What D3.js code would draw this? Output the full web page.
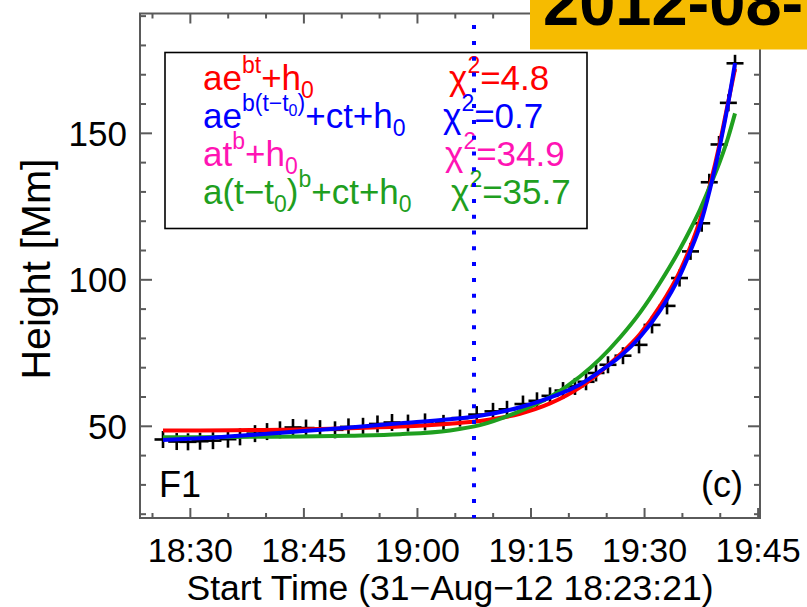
<!DOCTYPE html>
<html>
<head>
<meta charset="utf-8">
<script src="https://cdn.jsdelivr.net/npm/d3@7"></script>
<style>
  html, body { margin: 0; padding: 0; background: #fff; }
  svg { display: block; font-family: "Liberation Sans", Arial, Helvetica, sans-serif; }
</style>
</head>
<body>
<svg id="chart" width="807" height="607"></svg>
<script>
// ---------------- data ----------------
// time in minutes after start time 31-Aug-12 18:23:21
const obsTime = [3.04, 4.85, 6.34, 7.93, 9.64, 11.62, 13.21, 15.19, 16.78, 18.49,
  20.21, 21.93, 23.78, 25.76, 27.54, 29.46, 31.37, 33.29, 35.40, 37.65,
  40.09, 42.27, 44.48, 46.63, 48.48, 50.59, 52.44, 54.16, 55.88, 57.46,
  58.92, 60.24, 61.82, 63.80, 65.92, 67.64, 69.62, 71.27, 72.72, 74.20,
  75.20, 76.49, 77.72, 78.60];
const obsHeight = [45.5, 44.8, 44.7, 44.9, 45.1, 45.6, 46.4, 47.5, 48.2, 48.8,
  49.6, 49.4, 49.2, 48.8, 49.8, 50.0, 50.8, 51.3, 51.1, 51.5,
  51.0, 52.8, 54.0, 55.1, 55.8, 57.6, 58.7, 60.4, 62.2, 63.6,
  65.2, 68.2, 71.0, 74.1, 77.8, 84.6, 91.1, 100.6, 109.7, 119.3,
  133.3, 146.2, 160.4, 173.9];

// fitted curves, sampled from the figure
const fitTime  = [3.04, 7.93, 14.53, 21.14, 27.74, 34.35, 40.95, 44.91, 50.20, 54.16,
  58.12, 60.77, 63.41, 66.05, 68.69, 71.33, 72.66, 73.98, 75.30, 76.62, 77.68, 78.60];
const fitExp   = [48.6, 48.6, 48.7, 48.9, 49.3, 49.9, 50.9, 51.8, 54.3, 57.8,
  63.3, 68.5, 74.5, 81.5, 91.0, 103.0, 111.0, 120.5, 132.5, 147.0, 160.5, 172.0];
const fitExpLin = [45.3, 45.9, 47.0, 48.3, 49.6, 51.0, 52.4, 53.6, 56.5, 59.8,
  64.3, 68.8, 73.8, 80.5, 89.5, 101.5, 109.5, 118.5, 131.0, 146.0, 160.0, 174.0];
const fitPowLin = [46.3, 46.3, 46.4, 46.5, 46.8, 47.3, 48.6, 50.4, 55.2, 60.0,
  67.0, 73.0, 80.3, 88.8, 99.0, 110.5, 117.0, 124.0, 132.0, 140.5, 148.5, 156.8];

const eventTime = 44.12;   // blue dotted marker line

const xTickMinutes = [6.65, 21.65, 36.65, 51.65, 66.65, 81.65];
const xTickLabels  = ["18:30", "18:45", "19:00", "19:15", "19:30", "19:45"];
const yTickValues  = [50, 100, 150];
const yTickLabels  = ["50", "100", "150"];

const xTitle = "Start Time (31\u2212Aug\u221212 18:23:21)";
const yTitle = "Height [Mm]";
const dateBanner = "2012-08-";
const panelLabel = "F1";
const panelTag = "(c)";

// legend: formula pieces (level: 0 base, 1 sup, -1 sub, 2 sub inside sup)
const legendFormulas = [
  [["ae",0],["bt",1],["+h",0],["0",-1]],
  [["ae",0],["b(t\u2212t",1],["0",2],[")",1],["+ct+h",0],["0",-1]],
  [["at",0],["b",1],["+h",0],["0",-1]],
  [["a(t\u2212t",0],["0",-1],[")",0],["b",1],["+ct+h",0],["0",-1]]
];
const legendChi = ["=4.8", "=0.7", "=34.9", "=35.7"];
const legendColors = ["#ff0000", "#0000ff", "#ff14b4", "#1f9f1f"];

// ---------------- layout ----------------
const L = 140, R = 760, T = 13.5, B = 518;
const axisColor = "#5a5a5a";

const svg = d3.select("#chart");

const x = d3.scaleLinear().domain([0, 81.9]).range([L, R]);
const y = d3.scaleLinear().domain([18.7, 190.9]).range([B, T]);

// markers
const pts = obsTime.map((t, i) => ({ t, h: obsHeight[i] }));
const mk = svg.append("g").attr("stroke", "#000").attr("stroke-width", 2.6);
pts.forEach(p => {
  const cx = x(p.t), cy = y(p.h);
  mk.append("line").attr("x1", cx - 8.5).attr("x2", cx + 8.5).attr("y1", cy).attr("y2", cy);
  mk.append("line").attr("x1", cx).attr("x2", cx).attr("y1", cy - 8.5).attr("y2", cy + 8.5);
});

// fit lines
const line = d3.line().x(d => x(d[0])).y(d => y(d[1])).curve(d3.curveMonotoneX);
[[fitExp, legendColors[0]], [fitPowLin, legendColors[3]], [fitExpLin, legendColors[1]]].forEach(([vals, col]) => {
  svg.append("path")
    .attr("d", line(fitTime.map((t, i) => [t, vals[i]])))
    .attr("fill", "none").attr("stroke", col).attr("stroke-width", 4)
    .attr("stroke-linejoin", "round");
});

// axes frame
const ax = svg.append("g").attr("stroke", axisColor).attr("stroke-width", 2).attr("fill", "none");
ax.append("rect").attr("x", L).attr("y", T).attr("width", R - L).attr("height", B - T);

const xMinor = d3.range(1.65, 82, 5).filter(v => !xTickMinutes.some(m => Math.abs(m - v) < 0.01));
const yMinor = d3.range(20, 191, 10).filter(v => !yTickValues.includes(v));

xTickMinutes.forEach(v => {
  if (x(v) > R) return;
  ax.append("line").attr("x1", x(v)).attr("x2", x(v)).attr("y1", B).attr("y2", B - 10);
  ax.append("line").attr("x1", x(v)).attr("x2", x(v)).attr("y1", T).attr("y2", T + 10);
});
xMinor.forEach(v => {
  ax.append("line").attr("x1", x(v)).attr("x2", x(v)).attr("y1", B).attr("y2", B - 5);
  ax.append("line").attr("x1", x(v)).attr("x2", x(v)).attr("y1", T).attr("y2", T + 5);
});
yTickValues.forEach(v => {
  ax.append("line").attr("x1", L).attr("x2", L + 12).attr("y1", y(v)).attr("y2", y(v));
  ax.append("line").attr("x1", R).attr("x2", R - 12).attr("y1", y(v)).attr("y2", y(v));
});
yMinor.forEach(v => {
  ax.append("line").attr("x1", L).attr("x2", L + 6).attr("y1", y(v)).attr("y2", y(v));
  ax.append("line").attr("x1", R).attr("x2", R - 6).attr("y1", y(v)).attr("y2", y(v));
});

// tick labels
svg.append("g").selectAll("text").data(xTickMinutes).join("text")
  .attr("x", d => x(d)).attr("y", 562).attr("text-anchor", "middle")
  .attr("font-size", 34).attr("fill", "#000")
  .text((d, i) => xTickLabels[i]);
svg.append("g").selectAll("text").data(yTickValues).join("text")
  .attr("x", 127).attr("y", d => y(d) + 12.5).attr("text-anchor", "end")
  .attr("font-size", 35).attr("fill", "#000")
  .text((d, i) => yTickLabels[i]);

// titles
svg.append("text").attr("x", 450).attr("y", 600).attr("text-anchor", "middle")
  .attr("font-size", 35.5).attr("fill", "#000").text(xTitle);
svg.append("text").attr("transform", "translate(50,269) rotate(-90)").attr("text-anchor", "middle")
  .attr("font-size", 41).attr("fill", "#000").text(yTitle);

// panel labels
svg.append("text").attr("x", 159).attr("y", 497).attr("font-size", 36).attr("fill", "#000").text(panelLabel);
svg.append("text").attr("x", 743).attr("y", 497).attr("text-anchor", "end").attr("font-size", 36).attr("fill", "#000").text(panelTag);

// legend
const lg = svg.append("g");
lg.append("rect").attr("x", 165).attr("y", 52.5).attr("width", 422).attr("height", 176)
  .attr("fill", "none").attr("stroke", "#000").attr("stroke-width", 1.6);
const rowY = [90, 128, 166, 203.5];
const chiX = [449, 443, 445, 451];
const levelShift = { "0": 0, "1": -17, "-1": 8, "2": -12 };
const levelSize = { "0": 35, "1": 23, "-1": 23, "2": 16 };
function richText(g, xPos, yPos, parts, col) {
  const t = g.append("text").attr("x", xPos).attr("y", yPos).attr("fill", col);
  let cur = 0;
  parts.forEach(([s, lvl]) => {
    const target = levelShift[lvl];
    t.append("tspan").attr("dy", target - cur).attr("font-size", levelSize[lvl]).text(s);
    cur = target;
  });
}
legendFormulas.forEach((parts, i) => {
  richText(lg, 203, rowY[i], parts, legendColors[i]);
  richText(lg, chiX[i], rowY[i], [["\u03c7",0],["2",1],[legendChi[i],0]], legendColors[i]);
});

// dotted event line
svg.append("line").attr("x1", x(eventTime)).attr("x2", x(eventTime)).attr("y1", T).attr("y2", B)
  .attr("stroke", "#0000ff").attr("stroke-width", 4)
  .attr("stroke-dasharray", "4 11.8").attr("stroke-dashoffset", 4.2);

// date banner
svg.append("rect").attr("x", 530).attr("y", -2).attr("width", 280).attr("height", 51.5).attr("fill", "#f6bb00");
svg.append("text").attr("x", 543).attr("y", 25).attr("font-size", 65).attr("font-weight", "bold")
  .attr("fill", "#000").text(dateBanner);
</script>
</body>
</html>
